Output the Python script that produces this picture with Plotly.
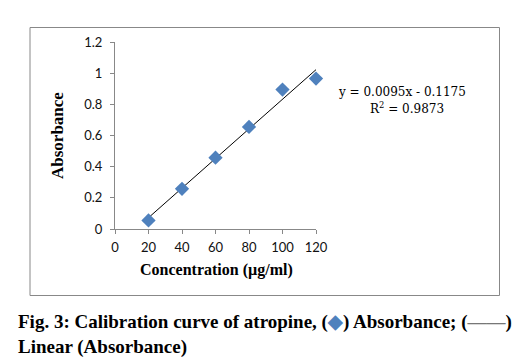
import plotly.graph_objects as go

concentration = [20, 40, 60, 80, 100, 120]
absorbance = [0.055, 0.258, 0.458, 0.655, 0.895, 0.965]
slope = 0.0095
intercept = -0.1175
r_squared = 0.9873
x_ticks = [0, 20, 40, 60, 80, 100, 120]
y_ticks = [0, 0.2, 0.4, 0.6, 0.8, 1, 1.2]
y_tick_labels = ["0", "0.2", "0.4", "0.6", "0.8", "1", "1.2"]

W, H = 531, 359
L, R, T, B = 115, 316, 42, 229


def px(x):
    return (x - L) / (R - L)


def py(y):
    return (B - y) / (B - T)


fit_x = [concentration[0], concentration[-1]]
fit_y = [slope * v + intercept for v in fit_x]

fig = go.Figure()
fig.add_trace(go.Scatter(x=fit_x, y=fit_y, mode="lines", cliponaxis=False,
                         line=dict(color="black", width=1), name="Linear (Absorbance)"))
fig.add_trace(go.Scatter(x=concentration, y=absorbance, mode="markers", cliponaxis=False,
                         marker=dict(symbol="diamond", size=11, color="#4F81BD"),
                         name="Absorbance"))

fig.update_layout(
    width=W, height=H,
    margin=dict(l=L, r=W - R, t=T, b=H - B, pad=0),
    paper_bgcolor="white", plot_bgcolor="white",
    showlegend=False,
    font=dict(family="Lato", size=13, color="black"),
)
fig.update_xaxes(range=[0, 120], tickvals=x_ticks, showgrid=False, zeroline=False,
                 showline=True, linecolor="#888", linewidth=1,
                 ticks="outside", ticklen=4, tickcolor="#888",
                 ticklabelstandoff=2,
                 tickfont=dict(family="Lato", size=13, color="#111"))
fig.update_yaxes(range=[0, 1.2], tickvals=y_ticks, ticktext=y_tick_labels,
                 showgrid=False, zeroline=False,
                 showline=True, linecolor="#888", linewidth=1,
                 ticks="outside", ticklen=4, tickcolor="#888",
                 ticklabelstandoff=5,
                 tickfont=dict(family="Lato", size=13, color="#111"))

# outer chart border
fig.add_shape(type="rect", xref="paper", yref="paper",
              x0=px(30), x1=px(499.5), y0=py(295.5), y1=py(27.5),
              line=dict(color="#888", width=1))

serif = "Liberation Serif"
ann = [
    dict(x=px(57), y=py(135), text="<b>Absorbance</b>", textangle=-90,
         font=dict(family=serif, size=17, color="black")),
    dict(x=px(216), y=py(270), text="<b>Concentration (µg/ml)</b>",
         font=dict(family=serif, size=16, color="black")),
    dict(x=px(401.5), y=py(92), text=f"y = {slope}x - {abs(intercept)}",
         font=dict(family="DejaVu Serif", size=12, color="black")),
    dict(x=px(407), y=py(108), text=f"R<sup>2</sup> = {r_squared}",
         font=dict(family="DejaVu Serif", size=12, color="black")),
    dict(x=px(16), y=py(322), xanchor="left",
         text='<b>Fig. 3: Calibration curve of atropine, (<span style="color:#4F81BD">◆</span>) Absorbance; (<span style="color:#777">——</span>)</b>',
         font=dict(family=serif, size=19, color="black")),
    dict(x=px(16), y=py(347), xanchor="left",
         text="<b>Linear (Absorbance)</b>",
         font=dict(family=serif, size=19, color="black")),
]
for a in ann:
    a.setdefault("xanchor", "center")
    fig.add_annotation(xref="paper", yref="paper", showarrow=False, yanchor="middle", **a)

fig.write_html("out.html", config={"displayModeBar": False},
               post_script="document.body.style.margin='0';")
